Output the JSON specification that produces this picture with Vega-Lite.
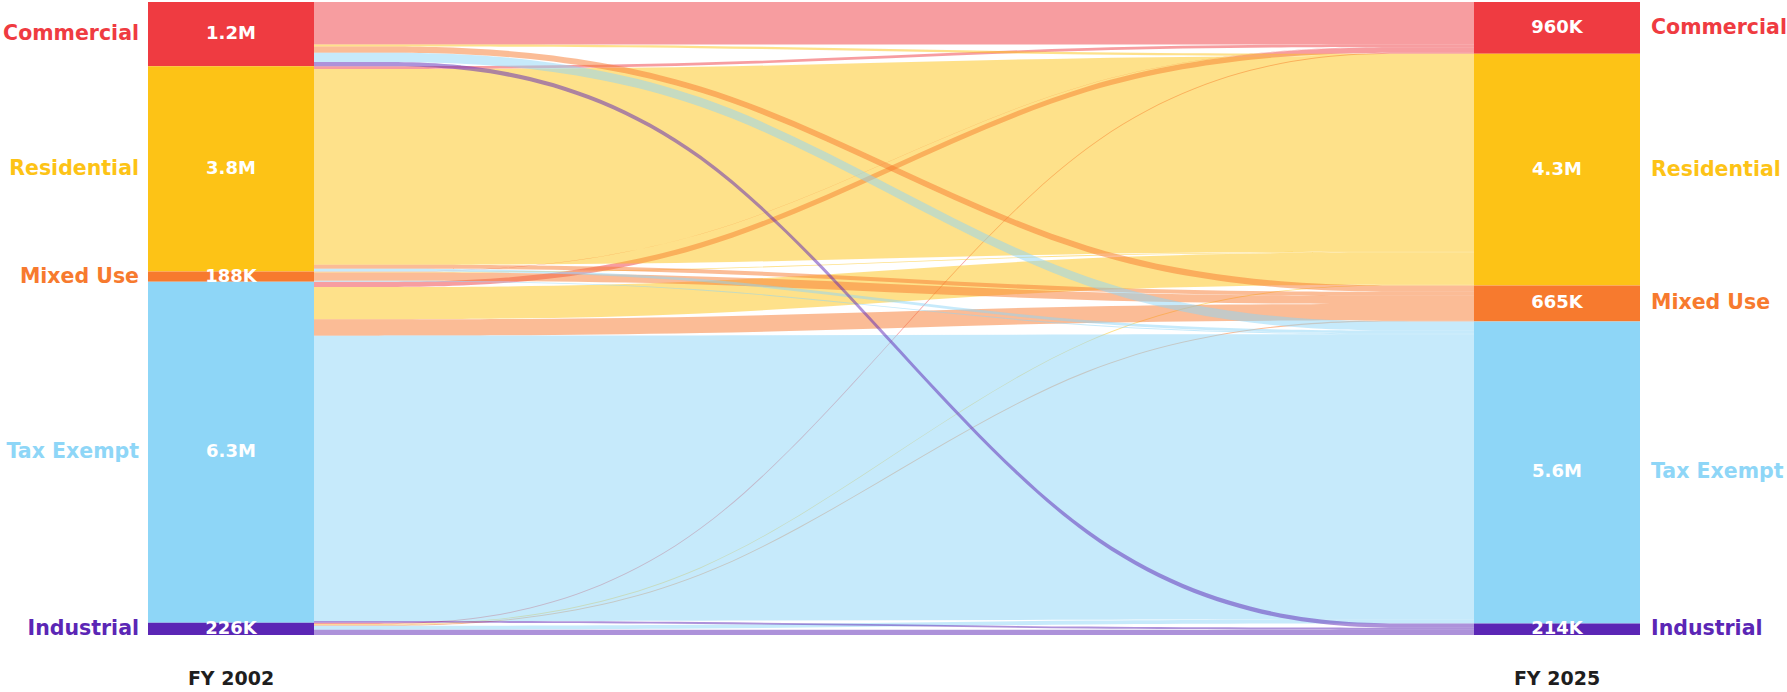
{
  "$schema": "https://vega.github.io/schema/vega-lite/v6.json",
  "width": 1492,
  "height": 633,
  "autosize": {"type": "none"},
  "padding": {"left": 148, "top": 2, "right": 147, "bottom": 57},
  "background": "white",
  "config": {"view": {"stroke": null}, "font": "DejaVu Sans"},
  "datasets": {
    "nodes": [
      {"stage": "FY 2002", "node": "Commercial", "value": 1190000, "label": "1.2M", "ord": 1},
      {"stage": "FY 2002", "node": "Residential", "value": 3800000, "label": "3.8M", "ord": 2},
      {"stage": "FY 2002", "node": "Mixed Use", "value": 188000, "label": "188K", "ord": 3},
      {"stage": "FY 2002", "node": "Tax Exempt", "value": 6317000, "label": "6.3M", "ord": 4},
      {"stage": "FY 2002", "node": "Industrial", "value": 226000, "label": "226K", "ord": 5},
      {"stage": "FY 2025", "node": "Commercial", "value": 960000, "label": "960K", "ord": 1},
      {"stage": "FY 2025", "node": "Residential", "value": 4290000, "label": "4.3M", "ord": 2},
      {"stage": "FY 2025", "node": "Mixed Use", "value": 665000, "label": "665K", "ord": 3},
      {"stage": "FY 2025", "node": "Tax Exempt", "value": 5592000, "label": "5.6M", "ord": 4},
      {"stage": "FY 2025", "node": "Industrial", "value": 214000, "label": "214K", "ord": 5}
    ],
    "links": [
      {"source": "Commercial", "target": "Commercial", "value": 785000, "so": 1, "to": 1},
      {"source": "Residential", "target": "Commercial", "value": 50000, "so": 2, "to": 1},
      {"source": "Mixed Use", "target": "Commercial", "value": 5000, "so": 3, "to": 1},
      {"source": "Tax Exempt", "target": "Commercial", "value": 100000, "so": 4, "to": 1},
      {"source": "Industrial", "target": "Commercial", "value": 20000, "so": 5, "to": 1},
      {"source": "Commercial", "target": "Residential", "value": 40000, "so": 1, "to": 2},
      {"source": "Residential", "target": "Residential", "value": 3625000, "so": 2, "to": 2},
      {"source": "Mixed Use", "target": "Residential", "value": 15000, "so": 3, "to": 2},
      {"source": "Tax Exempt", "target": "Residential", "value": 595000, "so": 4, "to": 2},
      {"source": "Industrial", "target": "Residential", "value": 15000, "so": 5, "to": 2},
      {"source": "Commercial", "target": "Mixed Use", "value": 115000, "so": 1, "to": 3},
      {"source": "Residential", "target": "Mixed Use", "value": 75000, "so": 2, "to": 3},
      {"source": "Mixed Use", "target": "Mixed Use", "value": 150000, "so": 3, "to": 3},
      {"source": "Tax Exempt", "target": "Mixed Use", "value": 305000, "so": 4, "to": 3},
      {"source": "Industrial", "target": "Mixed Use", "value": 20000, "so": 5, "to": 3},
      {"source": "Commercial", "target": "Tax Exempt", "value": 170000, "so": 1, "to": 4},
      {"source": "Residential", "target": "Tax Exempt", "value": 50000, "so": 2, "to": 4},
      {"source": "Mixed Use", "target": "Tax Exempt", "value": 18000, "so": 3, "to": 4},
      {"source": "Tax Exempt", "target": "Tax Exempt", "value": 5282000, "so": 4, "to": 4},
      {"source": "Industrial", "target": "Tax Exempt", "value": 72000, "so": 5, "to": 4},
      {"source": "Commercial", "target": "Industrial", "value": 80000, "so": 1, "to": 5},
      {"source": "Tax Exempt", "target": "Industrial", "value": 35000, "so": 4, "to": 5},
      {"source": "Industrial", "target": "Industrial", "value": 99000, "so": 5, "to": 5}
    ]
  },
  "layer": [
    {
      "data": {"name": "links"},
      "transform": [
        {"stack": "value", "groupby": [], "sort": [{"field": "so"}, {"field": "to"}], "as": ["a_top", "a_bot"]},
        {"stack": "value", "groupby": [], "sort": [{"field": "so"}, {"field": "to"}], "as": ["b_top", "b_bot"]},
        {"stack": "value", "groupby": [], "sort": [{"field": "to"}, {"field": "so"}], "as": ["c_top", "c_bot"]},
        {"stack": "value", "groupby": [], "sort": [{"field": "to"}, {"field": "so"}], "as": ["d_top", "d_bot"]},
        {"fold": ["a_top", "b_top", "c_top", "d_top"], "as": ["pt", "y_top"]},
        {"fold": ["a_bot", "b_bot", "c_bot", "d_bot"], "as": ["pt2", "y_bot"]},
        {"filter": "substring(datum.pt, 0, 1) === substring(datum.pt2, 0, 1)"}
      ],
      "mark": {"type": "area", "interpolate": "basis", "opacity": 0.5},
      "encoding": {
        "x": {"field": "pt", "type": "ordinal", "scale": {"type": "point", "padding": 0, "domain": ["a_top", "b_top", "c_top", "d_top"], "range": [166, 1326]}, "axis": null},
        "y": {"field": "y_top", "type": "quantitative", "stack": null, "scale": {"reverse": true, "nice": false, "zero": true}, "axis": null},
        "y2": {"field": "y_bot"},
        "color": {"field": "target", "type": "nominal", "scale": {"domain": ["Commercial", "Residential", "Mixed Use", "Tax Exempt", "Industrial"], "range": ["#ef3b41", "#fdc316", "#f77a2e", "#8ed6f7", "#5b26b5"]}, "legend": null},
        "detail": [{"field": "source"}, {"field": "target"}]
      }
    },
    {
      "layer": [
        {
          "data": {"name": "nodes"},
          "mark": {"type": "bar"},
          "encoding": {
            "x": {"field": "stage", "type": "nominal", "scale": {"type": "band", "paddingInner": 0.87481, "paddingOuter": 0}, "axis": {"title": null, "domain": false, "ticks": false, "labelAngle": 0, "labelFontSize": 19, "labelFontWeight": "bold", "labelColor": "#1e1e1e", "labelPadding": 34, "labelFont": "DejaVu Sans"}},
            "y": {"field": "value", "type": "quantitative", "stack": "zero", "axis": null},
            "order": {"field": "ord"},
            "color": {"field": "node", "type": "nominal", "legend": null}
          }
        },
        {
          "data": {"name": "nodes"},
          "transform": [
            {"stack": "value", "groupby": ["stage"], "sort": [{"field": "ord"}], "as": ["n0", "n1"]},
            {"fold": ["n0", "n1"], "as": ["edge", "pos"]},
            {"aggregate": [{"op": "mean", "field": "pos", "as": "mid"}], "groupby": ["stage", "node", "label"]}
          ],
          "mark": {"type": "text", "color": "white", "fontWeight": "bold", "fontSize": 18, "baseline": "middle", "align": "center"},
          "encoding": {
            "x": {"field": "stage", "type": "nominal"},
            "y": {"field": "mid", "type": "quantitative"},
            "text": {"field": "label"}
          }
        },
        {
          "data": {"name": "nodes"},
          "transform": [
            {"stack": "value", "groupby": ["stage"], "sort": [{"field": "ord"}], "as": ["n0", "n1"]},
            {"fold": ["n0", "n1"], "as": ["edge", "pos"]},
            {"aggregate": [{"op": "mean", "field": "pos", "as": "mid"}], "groupby": ["stage", "node"]},
            {"filter": "datum.stage === 'FY 2002'"}
          ],
          "mark": {"type": "text", "fontWeight": "bold", "fontSize": 20.5, "baseline": "middle", "align": "right", "dx": -9},
          "encoding": {
            "x": {"field": "stage", "type": "nominal", "bandPosition": 0},
            "y": {"field": "mid", "type": "quantitative"},
            "text": {"field": "node"},
            "color": {"field": "node", "type": "nominal", "legend": null}
          }
        },
        {
          "data": {"name": "nodes"},
          "transform": [
            {"stack": "value", "groupby": ["stage"], "sort": [{"field": "ord"}], "as": ["n0", "n1"]},
            {"fold": ["n0", "n1"], "as": ["edge", "pos"]},
            {"aggregate": [{"op": "mean", "field": "pos", "as": "mid"}], "groupby": ["stage", "node"]},
            {"filter": "datum.stage === 'FY 2025'"}
          ],
          "mark": {"type": "text", "fontWeight": "bold", "fontSize": 20.5, "baseline": "middle", "align": "left", "dx": 11},
          "encoding": {
            "x": {"field": "stage", "type": "nominal", "bandPosition": 1},
            "y": {"field": "mid", "type": "quantitative"},
            "text": {"field": "node"},
            "color": {"field": "node", "type": "nominal", "legend": null}
          }
        }
      ]
    }
  ],
  "resolve": {"scale": {"x": "independent"}, "axis": {"x": "independent"}}
}
